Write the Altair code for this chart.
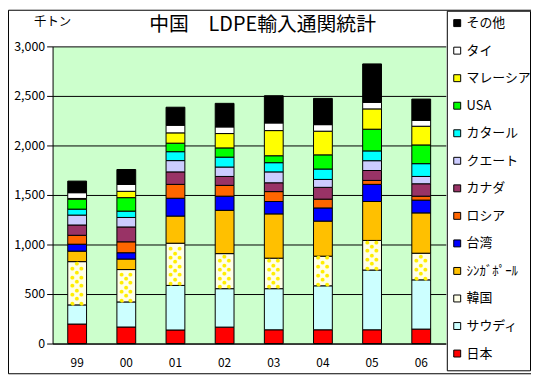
import altair as alt
import pandas as pd

years = ["99", "00", "01", "02", "03", "04", "05", "06"]
# stacking order, bottom to top
countries = ["日本", "サウディ", "韓国", "ｼﾝｶﾞﾎﾟｰﾙ", "台湾", "ロシア", "カナダ",
             "クエート", "カタール", "USA", "マレーシア", "タイ", "その他"]
colors = ["#FF0000", "#CCFFFF", "#FFFFE8", "#FFC000", "#0000FF", "#FF6600", "#993366",
          "#CCCCFF", "#00FFFF", "#00FF00", "#FFFF00", "#FFFFFF", "#000000"]

japan = [197, 167, 137, 166, 139, 139, 139, 146]
saudi = [193, 253, 450, 388, 415, 444, 603, 497]
korea = [437, 327, 426, 354, 308, 299, 299, 269]
singapore = [106, 106, 274, 437, 447, 354, 393, 407]
taiwan = [70, 64, 180, 143, 125, 133, 173, 129]
russia = [90, 110, 140, 109, 100, 89, 40, 40]
canada = [104, 150, 126, 90, 89, 119, 100, 125]
kuwait = [100, 96, 114, 95, 110, 80, 99, 74]
qatar = [60, 64, 90, 100, 93, 105, 99, 129]
usa = [100, 136, 86, 93, 70, 143, 219, 189]
malaysia = [8, 64, 104, 145, 254, 239, 205, 189]
thai = [58, 70, 77, 67, 77, 66, 66, 59]
other = [117, 150, 182, 238, 275, 265, 388, 215]
y_ticks = [0, 500, 1000, 1500, 2000, 2500, 3000]

series = [japan, saudi, korea, singapore, taiwan, russia, canada,
          kuwait, qatar, usa, malaysia, thai, other]

rows = []
for ci, (name, vals) in enumerate(zip(countries, series)):
    for yi, yr in enumerate(years):
        rows.append({"year": yr, "country": name, "value": vals[yi], "order": ci})
df = pd.DataFrame(rows)

# dot pattern inside the Korea segment (decoration derived from the data)
dot_rows_even, dot_rows_odd = [], []
for yi, yr in enumerate(years):
    lo = japan[yi] + saudi[yi]
    hi = lo + korea[yi]
    k = 0
    v = lo + 22
    while v < hi - 12:
        (dot_rows_even if k % 2 == 0 else dot_rows_odd).append({"year": yr, "y": v})
        v += 44
        k += 1
dots_even = pd.DataFrame(dot_rows_even)
dots_odd = pd.DataFrame(dot_rows_odd)

legend_order = countries[::-1]
legend_colors = colors[::-1]

FONT = "Noto Sans CJK JP"

x_enc = alt.X("year:N", sort=years,
              scale=alt.Scale(domain=years, paddingInner=0, paddingOuter=0),
              axis=alt.Axis(title=None, labelAngle=0, ticks=False, domainColor="black",
                            labelFont=FONT, labelFontSize=12, labelColor="black",
                            labelPadding=14, grid=False))
y_scale = alt.Scale(domain=[0, 3000], nice=False)

bars = alt.Chart(df).mark_bar(stroke="black", strokeWidth=1, size=19).encode(
    x=x_enc,
    y=alt.Y("value:Q", stack="zero", scale=y_scale,
            axis=alt.Axis(title=None, values=y_ticks, format=",d", grid=True,
                          gridColor="black", gridWidth=1, gridOpacity=1,
                          domainColor="black", tickColor="black", tickSize=6,
                          labelFont=FONT, labelFontSize=12.5, labelColor="black",
                          labelPadding=2)),
    color=alt.Color("country:N",
                    scale=alt.Scale(domain=legend_order, range=legend_colors),
                    legend=alt.Legend(title=None, orient="none", legendX=402, legendY=-30,
                                      symbolType="square", symbolSize=49,
                                      symbolStrokeColor="black", symbolStrokeWidth=1,
                                      labelFont=FONT, labelFontSize=13, labelColor="black",
                                      rowPadding=13.8, labelOffset=3, padding=0,
                                      labelLimit=80)),
    order=alt.Order("order:Q", sort="ascending"),
)

def dot_layer(data, dx):
    return alt.Chart(data).mark_text(text="●", fontSize=5, color="#FFEE00", dx=dx,
                                     baseline="middle", font="DejaVu Sans").encode(
        x=alt.X("year:N", sort=years), y=alt.Y("y:Q", scale=y_scale))

dots = [dot_layer(dots_even, -4.5), dot_layer(dots_even, 4.5), dot_layer(dots_odd, 0)]

one = alt.Data(values=[{"a": 1}])
legend_box = alt.Chart(one).mark_rect(fill="white", stroke="black", strokeWidth=1).encode(
    x=alt.value(398.5), x2=alt.value(482.5), y=alt.value(-35.5), y2=alt.value(327.5))
frame = alt.Chart(one).mark_rect(fill="transparent", stroke="black", strokeWidth=1).encode(
    x=alt.value(-44.5), x2=alt.value(485.5), y=alt.value(-36.5), y2=alt.value(330.5))
title = alt.Chart(one).mark_text(text="中国　LDPE輸入通関統計", font=FONT, fontSize=20,
                                 color="black", align="center", baseline="middle").encode(
    x=alt.value(212), y=alt.value(-22))
unit = alt.Chart(one).mark_text(text="千トン", font=FONT, fontSize=12.5,
                                color="black", align="center", baseline="middle").encode(
    x=alt.value(0), y=alt.value(-25))

chart = alt.layer(bars, *dots, legend_box, frame, title, unit).properties(
    width=397, height=300,
    autosize=alt.AutoSizeParams(type="none"),
    padding={"left": 45, "top": 37, "right": 86, "bottom": 31},
    background="white",
).configure_view(fill="#CCFFCC", stroke="transparent")

chart.save("out.html", embed_options={"renderer": "svg", "actions": False})
